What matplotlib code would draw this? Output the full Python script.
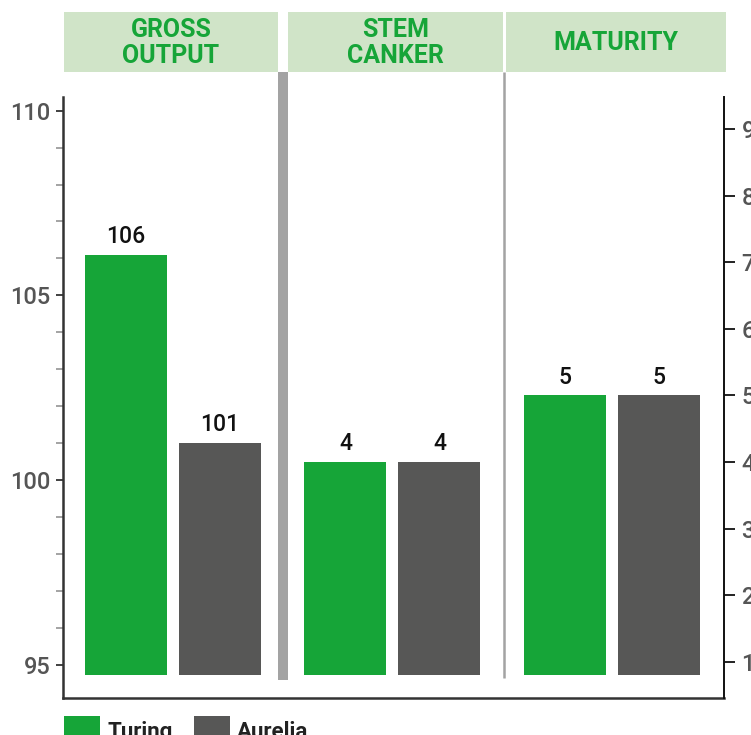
import numpy as np
import matplotlib.pyplot as plt
from matplotlib.patches import Rectangle
from matplotlib.ticker import MultipleLocator, FixedLocator

# ---- data ----
categories = ['GROSS\nOUTPUT', 'STEM\nCANKER', 'MATURITY']
series_names = ['Turing', 'Aurelia']
turing = [106.1, 4.0, 5.0]
aurelia = [101.0, 4.0, 5.0]
left_ticks = [95, 100, 105, 110]
right_ticks = [1, 2, 3, 4, 5, 6, 7, 8, 9]

# ---- style ----
GREEN = '#16a538'
GREY = '#575756'
HEADER_BG = '#d0e4c8'
SEP = '#a3a3a3'
COND = ['Roboto', 'DejaVu Sans']
SANS = ['Roboto', 'DejaVu Sans']

W, H = 751, 735
fig = plt.figure(figsize=(W / 100, H / 100), dpi=100)
ax_l, ax_r, ax_b, ax_t = 62.7, 723.7, 698, 97
ax = fig.add_axes([ax_l / W, 1 - ax_b / H, (ax_r - ax_l) / W, (ax_b - ax_t) / H])
ax2 = ax.twinx()

ax.set_xlim(-0.5025, 2.509)
ax.set_ylim(94.098, 110.37)
ax2.set_ylim(0.459, 9.48)

x = np.arange(len(categories))
bw = 0.3736
off = 0.2141
lbase = 94.73
rbase = 0.81

# left axis (gross output)
ax.bar(x[:1] - off, np.array(turing[:1]) - lbase, bottom=lbase, width=bw, color=GREEN)
ax.bar(x[:1] + off, np.array(aurelia[:1]) - lbase, bottom=lbase, width=bw, color=GREY)
# right axis (scores)
ax2.bar(x[1:] - off, np.array(turing[1:]) - rbase, bottom=rbase, width=bw, color=GREEN)
ax2.bar(x[1:] + off, np.array(aurelia[1:]) - rbase, bottom=rbase, width=bw, color=GREY)

def label(a, xs, vals):
    for xi, v in zip(xs, vals):
        a.annotate(f'{v:.0f}', (xi, v), xytext=(0, 8.6), textcoords='offset points',
                   ha='center', va='baseline', fontsize=16.5, color='#111111',
                   family=['Roboto', 'DejaVu Sans'], weight='medium')

label(ax, x[:1] - off, turing[:1])
label(ax, x[:1] + off, aurelia[:1])
label(ax2, x[1:] - off, turing[1:])
label(ax2, x[1:] + off, aurelia[1:])

# axes styling
ax.spines['top'].set_visible(False)
ax2.spines['top'].set_visible(False)
ax.spines['right'].set_visible(False)
ax2.spines['left'].set_visible(False)
ax2.spines['bottom'].set_visible(False)
ax.spines['left'].set_color('#333333')
ax.spines['left'].set_linewidth(1.8)
ax.spines['bottom'].set_color('#333333')
ax.spines['bottom'].set_linewidth(1.8)
ax2.spines['right'].set_color('#111111')
ax2.spines['right'].set_linewidth(1.4)

ax.set_xticks([])
ax.yaxis.set_major_locator(FixedLocator(left_ticks))
ax.yaxis.set_minor_locator(MultipleLocator(1))
ax.tick_params(axis='y', which='major', length=4.8, width=1.3, color='#333333',
               labelsize=17, labelcolor='#555555', pad=4)
ax.tick_params(axis='y', which='minor', length=4.8, width=1.1, color='#8a8a8a')
ax2.yaxis.set_major_locator(FixedLocator(right_ticks))
ax2.tick_params(axis='y', which='major', length=7.9, width=1.3, color='#111111',
                labelsize=17, labelcolor='#555555', pad=5)
for t in ax.get_yticklabels() + ax2.get_yticklabels():
    t.set_family(SANS)
    t.set_weight('medium')

# separators
ymin = (ax_b - 680) / (ax_b - ax_t)
ymax = (ax_b - 72) / (ax_b - ax_t)
ax.axvline(0.5, ymin=ymin, ymax=ymax, lw=7.2, color=SEP, clip_on=False, solid_capstyle='butt')
ax.axvline(1.51, ymin=(ax_b - 678) / (ax_b - ax_t), ymax=ymax, lw=1.8, color=SEP,
           clip_on=False, solid_capstyle='butt')

# headers
boxes = [(64, 278), (288, 503), (506, 726)]
for (x0, x1), cat in zip(boxes, categories):
    fig.add_artist(Rectangle((x0 / W, 1 - 72 / H), (x1 - x0) / W, 60 / H,
                             transform=fig.transFigure, color=HEADER_BG, lw=0))
    fig.text((x0 + x1) / 2 / W, 1 - 43 / H, cat, ha='center', va='center',
             fontsize=18, weight='bold', color=GREEN, family=COND, linespacing=1.1)

# legend
leg_x = [(64, 108), (194, 237)]
for (px, tx), name, col in zip(leg_x, series_names, [GREEN, GREY]):
    fig.add_artist(Rectangle((px / W, 1 - 752 / H), 36 / W, 36 / H,
                             transform=fig.transFigure, color=col, lw=0))
    fig.text(tx / W, 1 - 738 / H, name, ha='left', va='baseline', fontsize=16,
             weight='bold', color='#222222', family=COND)

fig.savefig('out.png', dpi=100)
